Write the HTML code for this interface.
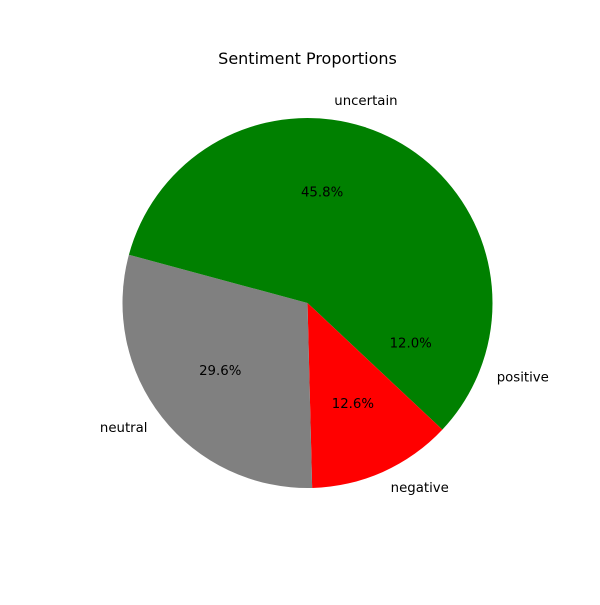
<!DOCTYPE html>
<html><head><meta charset="utf-8"><style>
body{margin:0;background:#fff}
svg text{font-family:"DejaVu Sans","Liberation Sans",sans-serif}
</style></head><body>
<svg id="chart" width="600" height="600">
<text x="307.5" y="64" font-size="16" text-anchor="middle">Sentiment Proportions</text>
<g id="slices"></g>
</svg>
<script>
const categories=["positive","negative","neutral","uncertain"];
const values=[12.0,12.6,29.6,45.8];
const colors=["green","red","gray","green"];
const cx=307.5,cy=303,r=185;
const g=document.getElementById('slices');
const ns="http://www.w3.org/2000/svg";
const total=values.reduce((a,b)=>a+b,0);
let a=0;
function pt(deg,rr){const t=deg*Math.PI/180;return [cx+rr*Math.cos(t),cy-rr*Math.sin(t)];}
values.forEach((v,i)=>{
  const sweep=v/total*360;const a0=a,a1=a-sweep;a=a1;
  const p0=pt(a0,r),p1=pt(a1,r);
  const path=document.createElementNS(ns,'path');
  path.setAttribute('d',`M${cx},${cy}L${p0[0]},${p0[1]}A${r},${r} 0 ${sweep>180?1:0} 1 ${p1[0]},${p1[1]}Z`);
  path.setAttribute('fill',colors[i]);
  
  
  g.appendChild(path);
  const mid=(a0+a1)/2;
  const pp=pt(mid,0.6*r);
  const t=document.createElementNS(ns,'text');
  t.setAttribute('x',pp[0]);t.setAttribute('y',pp[1]);
  t.setAttribute('text-anchor','middle');t.setAttribute('dominant-baseline','central');
  t.setAttribute('font-size','13.3');
  t.textContent=v.toFixed(1)+'%';
  
  
  g.appendChild(t);
  const lp=pt(mid,1.1*r);
  const l=document.createElementNS(ns,'text');
  l.setAttribute('x',lp[0]);l.setAttribute('y',lp[1]);
  l.setAttribute('text-anchor',lp[0]>cx?'start':'end');l.setAttribute('dominant-baseline','central');
  l.setAttribute('font-size','13.3');
  l.textContent=categories[i];
  
  
  g.appendChild(l);
});
</script>
</body></html>
